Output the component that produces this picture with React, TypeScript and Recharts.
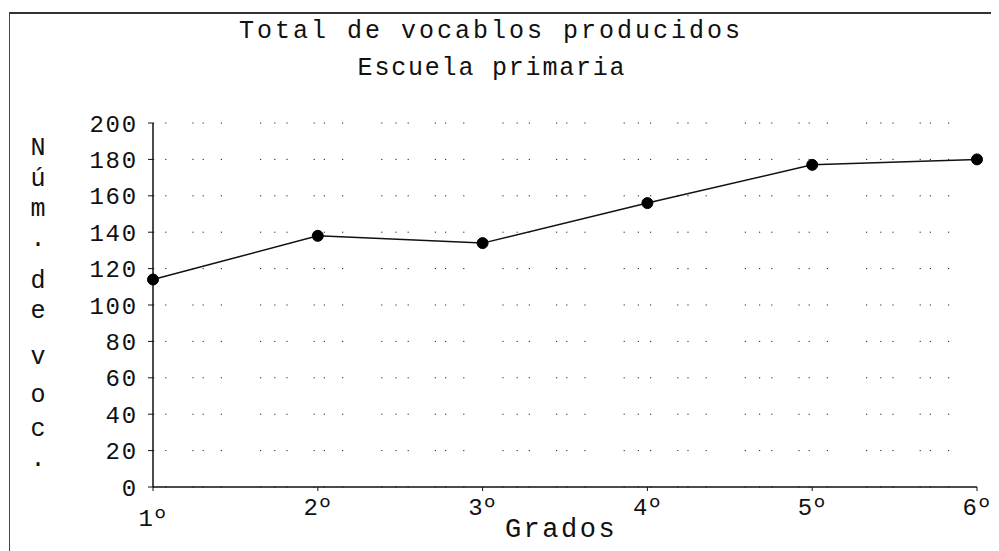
import { LineChart, Line, XAxis, YAxis, CartesianGrid } from "recharts";

// ── Data ──────────────────────────────────────────────────────────────────────

const grades = ["1º", "2º", "3º", "4º", "5º", "6º"];
const vocab = [114, 138, 134, 156, 177, 180];
const yTicks = [0, 20, 40, 60, 80, 100, 120, 140, 160, 180, 200];

const title = "Total de vocablos producidos";
const subtitle = "Escuela primaria";
const xTitle = "Grados";
const yTitle = ["N", "ú", "m", ".", "d", "e", "v", "o", "c", "."];

const rows = grades.map((g, i) => ({ grade: g, total: vocab[i] }));

// ── Style ─────────────────────────────────────────────────────────────────────

const FONT = "'Liberation Mono', 'Courier New', monospace";
const W = 991;
const H = 543;

// gap before each stacked letter of the y title (spaces read as wider gaps)
const Y_STEPS = [0, 31, 30, 30, 42, 30, 46, 38, 34, 30];

function XTick(props: any) {
  const { x, y, payload, index } = props;
  const drop = index === 0 ? 11 : 0; // first label sits lower, clear of the "0"
  return (
    <text
      x={x}
      y={y + 22 + drop}
      textAnchor="middle"
      fontFamily={FONT}
      fontSize={24}
      fill="#111"
    >
      {payload.value}
    </text>
  );
}

function YTitle() {
  let acc = 139;
  return (
    <text fontFamily={FONT} fontSize={25} fill="#111" textAnchor="middle">
      {yTitle.map((ch, i) => {
        acc += Y_STEPS[i];
        return (
          <tspan key={i} x={30} y={acc + 8}>
            {ch}
          </tspan>
        );
      })}
    </text>
  );
}

export default function App() {
  return (
    <div style={{ position: "relative", width: W, height: H, background: "#fff", overflow: "hidden" }}>
      <style>{"html,body{overflow:hidden}"}</style>
      <div
        style={{
          position: "absolute",
          top: 4,
          left: 1,
          right: 0,
          bottom: 0,
          borderTop: "2px solid #333",
          borderLeft: "1px solid #444",
        }}
      />
      <LineChart
        width={W}
        height={H}
        data={rows}
        margin={{ top: 115, right: 22, bottom: 24, left: 0 }}
        style={{ position: "absolute", top: 0, left: 0 }}
      >
        <CartesianGrid
          vertical={false}
          stroke="#222"
          strokeWidth={1}
          strokeDasharray="1.2 11 1.2 26 1.2 9 1.2 17 1.2 38 1.2 13"
        />
        <XAxis
          dataKey="grade"
          height={40}
          axisLine={{ stroke: "#111", strokeWidth: 1.5 }}
          tickLine={{ stroke: "#111" }}
          tickSize={4}
          tick={<XTick />}
          interval={0}
        />
        <YAxis
          type="number"
          domain={[0, 200]}
          ticks={yTicks}
          width={145}
          axisLine={{ stroke: "#111", strokeWidth: 1.5 }}
          tickLine={{ stroke: "#111" }}
          tickSize={5}
          tickMargin={10}
          tick={{ fontFamily: FONT, fontSize: 24, fill: "#111", letterSpacing: 1.8 }}
          interval={0}
        />
        <Line
          dataKey="total"
          type="linear"
          stroke="#111"
          strokeWidth={1.5}
          dot={{ r: 5.5, fill: "#000", stroke: "#000", strokeWidth: 1 }}
          isAnimationActive={false}
        />
        <text
          x={483}
          y={30}
          textAnchor="middle"
          fontFamily={FONT}
          fontSize={25}
          letterSpacing={3}
          fill="#111"
        >
          {title}
        </text>
        <text
          x={484}
          y={67}
          textAnchor="middle"
          fontFamily={FONT}
          fontSize={25}
          letterSpacing={1.8}
          fill="#111"
        >
          {subtitle}
        </text>
        <text
          x={553}
          y={529}
          textAnchor="middle"
          fontFamily={FONT}
          fontSize={27}
          letterSpacing={2.5}
          fill="#111"
        >
          {xTitle}
        </text>
        <YTitle />
      </LineChart>
    </div>
  );
}
